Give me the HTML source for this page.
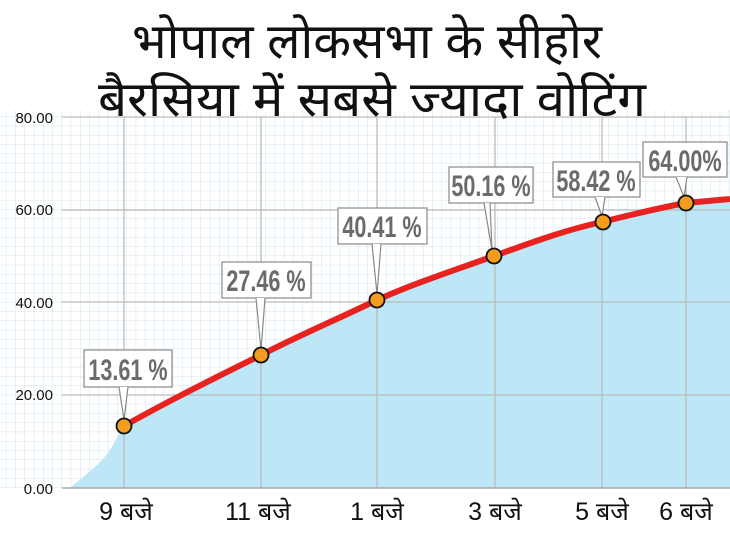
<!DOCTYPE html>
<html><head><meta charset="utf-8"><style>
html,body{margin:0;padding:0;background:#fff;width:730px;height:548px;overflow:hidden}
svg{display:block}
.t{font-family:"Liberation Sans","Noto Sans CJK SC","DejaVu Sans",sans-serif;}
</style></head><body>
<svg width="730" height="548" viewBox="0 0 730 548" xmlns="http://www.w3.org/2000/svg">
<defs>
<pattern id="g" width="9.27" height="9.27" patternUnits="userSpaceOnUse" x="62" y="117">
<path d="M9.27 0V9.27M0 9.27H9.27" stroke="#cfe3f0" stroke-width="1" fill="none"/>
</pattern>
</defs>
<rect x="0" y="0" width="730" height="548" fill="#fff"/>
<rect x="0" y="110" width="730" height="378" fill="url(#g)"/>
<path d="M70 488 C85 475 100 465 110 450 L124 426 C170 400 215 378 261 355 C300 335 340 318 377 300 C415 283 455 270 494 256 C530 243 565 230 602 222 C630 215 658 208 686 203 L730 197 L730 488 Z" fill="#bde6f6"/>
<g stroke="#bbbbbb" stroke-width="1.3">
<line x1="62" y1="117" x2="730" y2="117"/>
<line x1="62" y1="210" x2="730" y2="210"/>
<line x1="62" y1="302" x2="730" y2="302"/>
<line x1="62" y1="395" x2="730" y2="395"/>
<line x1="124" y1="117" x2="124" y2="488"/>
<line x1="261" y1="117" x2="261" y2="488"/>
<line x1="377" y1="117" x2="377" y2="488"/>
<line x1="495" y1="117" x2="495" y2="488"/>
<line x1="602" y1="117" x2="602" y2="488"/>
<line x1="686" y1="117" x2="686" y2="488"/>
</g>
<line x1="62" y1="488" x2="730" y2="488" stroke="#aaa" stroke-width="1.5"/>
<g class="t" font-size="15" fill="#111" text-anchor="end">
<text x="53" y="123">80.00</text>
<text x="53" y="215">60.00</text>
<text x="53" y="308">40.00</text>
<text x="53" y="400">20.00</text>
<text x="53" y="494">0.00</text>
</g>
<g class="t" font-size="25" fill="#111" text-anchor="middle">
<text x="126" y="520">9 बजे</text>
<text x="258" y="520">11 बजे</text>
<text x="377" y="520">1 बजे</text>
<text x="495" y="520">3 बजे</text>
<text x="602" y="520">5 बजे</text>
<text x="686" y="520">6 बजे</text>
</g>
<path d="M124 426 C170 400 215 378 261 355 C300 335 340 318 377 300 C415 283 455 270 494 256 C530 243 565 230 602 222 C630 215 658 208 686 203 L730 199" fill="none" stroke="#e8231f" stroke-width="6"/>
<g stroke="#888" stroke-width="1.2" fill="#fff">
<rect x="84" y="350" width="88" height="37"/>
<path d="M119 387 L124 420 L128 387"/>
<rect x="222" y="262" width="89" height="36"/>
<path d="M256 298 L261 350 L265 298"/>
<rect x="338" y="208" width="89" height="36"/>
<path d="M372 244 L377 294 L381 244"/>
<rect x="449" y="167" width="84" height="36"/>
<path d="M484 203 L492 250 L490 203"/>
<rect x="553" y="162" width="87" height="35"/>
<path d="M595 197 L602 216 L605 197"/>
<rect x="643" y="142" width="84" height="35"/>
<path d="M676 177 L684 197 L687 177"/>
</g>
<g class="t" font-size="30" font-weight="bold" fill="#6b6b6b" text-anchor="middle">
<text x="128" y="380" transform="translate(128 0) scale(0.72 1) translate(-128 0)">13.61 %</text>
<text x="266" y="291" transform="translate(266 0) scale(0.72 1) translate(-266 0)">27.46 %</text>
<text x="382" y="237" transform="translate(382 0) scale(0.72 1) translate(-382 0)">40.41 %</text>
<text x="491" y="196" transform="translate(491 0) scale(0.72 1) translate(-491 0)">50.16 %</text>
<text x="596" y="191" transform="translate(596 0) scale(0.72 1) translate(-596 0)">58.42 %</text>
<text x="685" y="171" transform="translate(685 0) scale(0.72 1) translate(-685 0)">64.00%</text>
</g>
<g fill="#f39c1e" stroke="#111" stroke-width="1.8">
<circle cx="124" cy="426" r="7.5"/>
<circle cx="261" cy="355" r="7.5"/>
<circle cx="377" cy="300" r="7.5"/>
<circle cx="494" cy="256" r="7.5"/>
<circle cx="603" cy="222" r="7.5"/>
<circle cx="686" cy="203" r="7.5"/>
</g>
<g class="t" font-size="49" fill="#111" text-anchor="middle">
<text x="367" y="58" textLength="470" lengthAdjust="spacingAndGlyphs">भोपाल लोकसभा के सीहोर</text>
<text x="372" y="116" textLength="548" lengthAdjust="spacingAndGlyphs">बैरसिया में सबसे ज्यादा वोटिंग</text>
</g>
</svg>
</body></html>
